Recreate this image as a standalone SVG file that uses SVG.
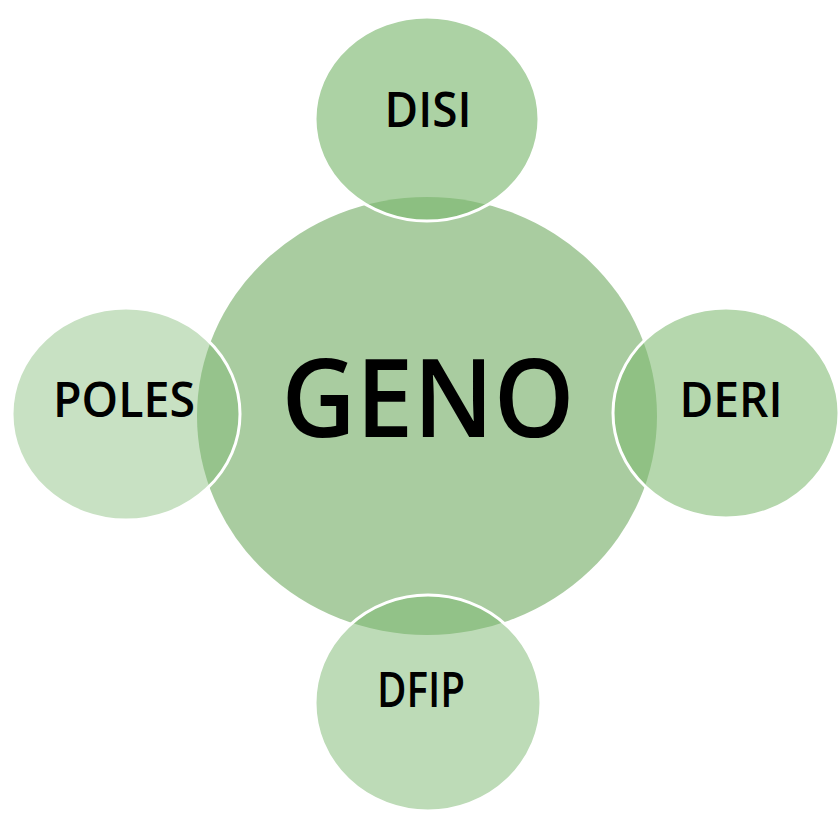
<svg xmlns="http://www.w3.org/2000/svg" width="838" height="813" viewBox="0 0 838 813">
  <style>
    .bg { fill: #ffffff; }
    .hub { fill: #a9cca0; }
    .sat { fill: #7cb86f; stroke: #ffffff; stroke-width: 3; }
    .lbl { font-family: "Open Sans", "Noto Sans", "Liberation Sans", sans-serif; font-weight: 600; fill: #000000; text-anchor: middle; }
    .small { font-size: 48px; }
    .big { font-size: 108px; }
  </style>
  <rect class="bg" x="0" y="0" width="838" height="813"/>
  <g id="connectors"></g>
  <g id="node-geno">
    <ellipse class="hub" cx="427" cy="416" rx="230" ry="219"/>
    <text class="lbl big" x="428" y="437" textLength="293" lengthAdjust="spacingAndGlyphs">GENO</text>
  </g>
  <g id="node-disi">
    <ellipse class="sat" cx="427" cy="119" rx="112" ry="102" fill-opacity="0.63"/>
    <text class="lbl small" x="428" y="127" textLength="87" lengthAdjust="spacingAndGlyphs">DISI</text>
  </g>
  <g id="node-poles">
    <ellipse class="sat" cx="126" cy="414" rx="114" ry="106" fill-opacity="0.42"/>
    <text class="lbl small" x="124" y="417" textLength="142" lengthAdjust="spacingAndGlyphs">POLES</text>
  </g>
  <g id="node-deri">
    <ellipse class="sat" cx="726" cy="413" rx="113" ry="105" fill-opacity="0.57"/>
    <text class="lbl small" x="731" y="417" textLength="103" lengthAdjust="spacingAndGlyphs">DERI</text>
  </g>
  <g id="node-dfip">
    <ellipse class="sat" cx="428" cy="703" rx="113" ry="108" fill-opacity="0.5"/>
    <text class="lbl small" x="421" y="707" textLength="88" lengthAdjust="spacingAndGlyphs">DFIP</text>
  </g>
</svg>
